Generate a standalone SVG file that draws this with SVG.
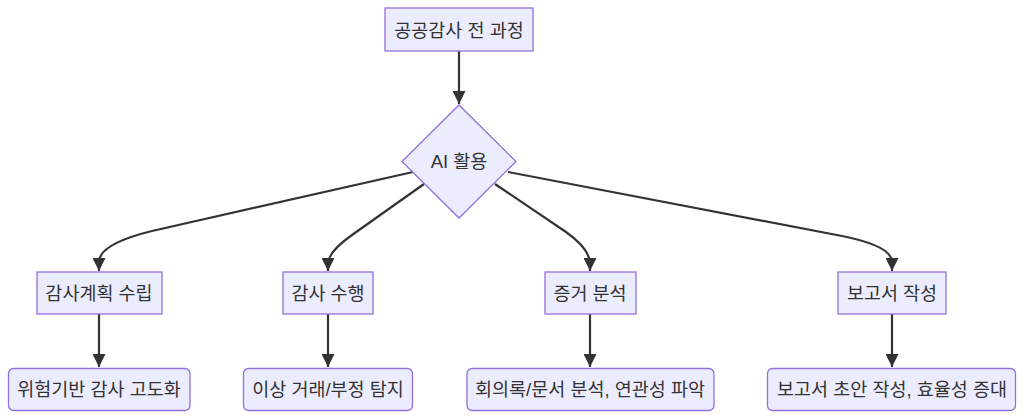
<svg xmlns="http://www.w3.org/2000/svg" width="1024" height="419" viewBox="0 0 1024 419">
<defs>
<style>
.n{fill:#ECECFF;stroke:#9370DB;stroke-width:1.3}
.t{font-family:"Liberation Sans","Noto Sans CJK KR",sans-serif;font-size:18.5px;fill:#333;text-anchor:middle;dominant-baseline:central}
.e{fill:none;stroke:#333;stroke-width:2.2}
</style>
<marker id="ah" viewBox="0 0 10 10" refX="10" refY="5" markerWidth="13" markerHeight="13" markerUnits="userSpaceOnUse" orient="auto">
<path d="M0,0 L10,5 L0,10 z" fill="#333"/>
</marker>
</defs>
<rect width="1024" height="419" fill="#fff"/>
<g id="edges">
<path class="e" d="M459,51 L459,104" marker-end="url(#ah)"/>
<path class="e" d="M413,172 L152,231 Q99,244 99,262 L99,271" marker-end="url(#ah)"/>
<path class="e" d="M424,184 L352,235 Q328,252 328,264 L328,271" marker-end="url(#ah)"/>
<path class="e" d="M495,184 L566,232 Q590,249 590,264 L590,271" marker-end="url(#ah)"/>
<path class="e" d="M508,172 L842,236 Q892,246 892,262 L892,271" marker-end="url(#ah)"/>
<path class="e" d="M99,314 L99,367" marker-end="url(#ah)"/>
<path class="e" d="M328,314 L328,367" marker-end="url(#ah)"/>
<path class="e" d="M590,314 L590,367" marker-end="url(#ah)"/>
<path class="e" d="M892,314 L892,367" marker-end="url(#ah)"/>
</g>
<g id="n0"><rect class="n" x="385" y="8" width="148" height="43"/><text class="t" x="459" y="30">공공감사 전 과정</text></g>
<g id="n1"><path class="n" d="M459,105 L516,161.5 L459,218 L402,161.5 z"/><text class="t" x="459" y="161.5">AI 활용</text></g>
<g id="n2"><rect class="n" x="37" y="272" width="125" height="42"/><text class="t" x="99" y="293">감사계획 수립</text></g>
<g id="n3"><rect class="n" x="283" y="272" width="90" height="42"/><text class="t" x="328" y="293">감사 수행</text></g>
<g id="n4"><rect class="n" x="545" y="272" width="91" height="42"/><text class="t" x="590" y="293">증거 분석</text></g>
<g id="n5"><rect class="n" x="838" y="272" width="108" height="42"/><text class="t" x="892" y="293">보고서 작성</text></g>
<g id="n6"><rect class="n" x="8.5" y="368.5" width="181.5" height="42" rx="5"/><text class="t" x="99" y="389.5">위험기반 감사 고도화</text></g>
<g id="n7"><rect class="n" x="243.5" y="368.5" width="169" height="42" rx="5"/><text class="t" x="328" y="389.5">이상 거래/부정 탐지</text></g>
<g id="n8"><rect class="n" x="467" y="368.5" width="247" height="42" rx="5"/><text class="t" x="590" y="389.5">회의록/문서 분석, 연관성 파악</text></g>
<g id="n9"><rect class="n" x="767.5" y="368.5" width="248" height="42" rx="5"/><text class="t" x="892" y="389.5">보고서 초안 작성, 효율성 증대</text></g>
</svg>
